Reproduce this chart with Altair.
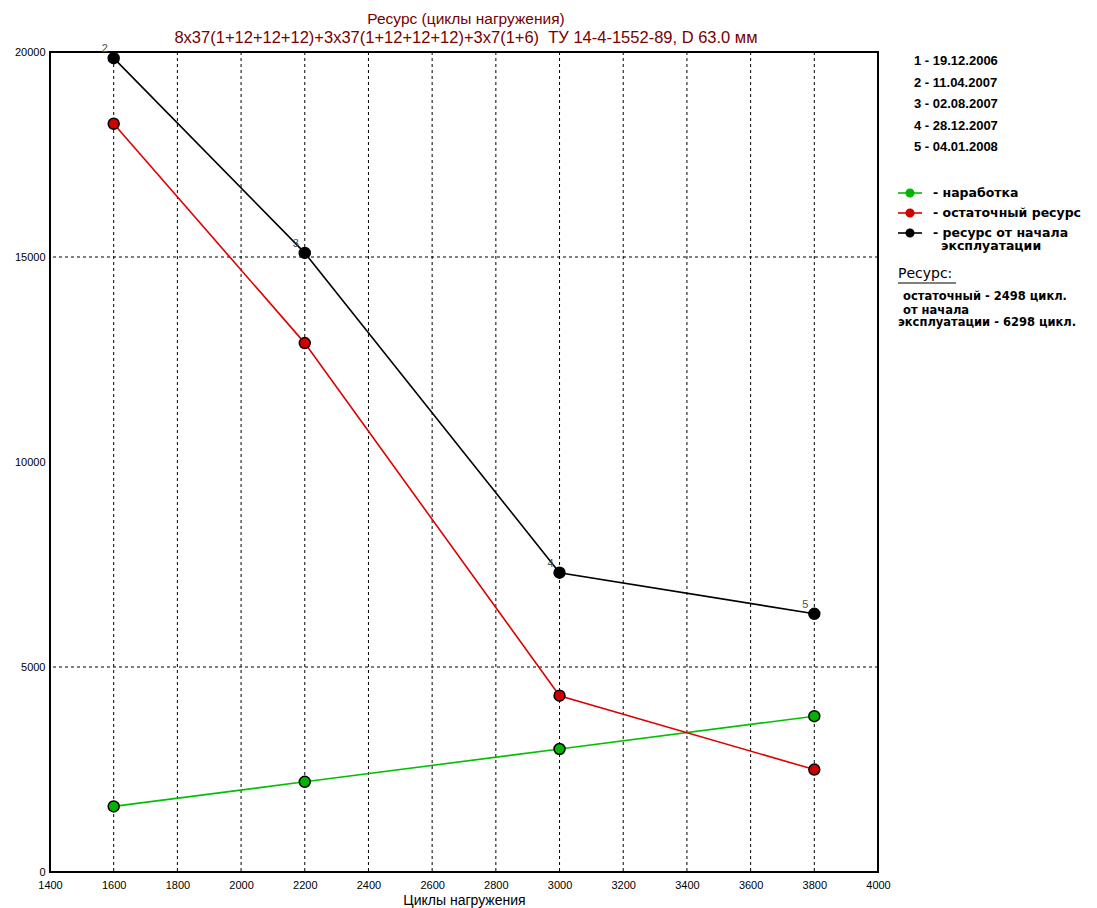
import altair as alt
import pandas as pd

# ---- data ----
cycles = [1600, 2200, 3000, 3800]
narabotka = [1600, 2200, 3000, 3800]
ostatochny = [18250, 12900, 4300, 2498]
ot_nachala = [19850, 15100, 7300, 6298]
point_labels = ["2", "3", "4", "5"]
dates = ["1 - 19.12.2006", "2 - 11.04.2007", "3 - 02.08.2007", "4 - 28.12.2007", "5 - 04.01.2008"]
series_names = ["наработка", "остаточный ресурс", "ресурс от начала эксплуатации"]
series_line_colors = ["#00c000", "#e00000", "#000000"]
series_fill_colors = ["#00b400", "#d00000", "#000000"]
x_ticks = list(range(1400, 4001, 200))
y_ticks = [0, 5000, 10000, 15000, 20000]
y_grid = [5000, 15000]
title_lines = ["Ресурс (циклы нагружения)",
               "8x37(1+12+12+12)+3x37(1+12+12+12)+3x7(1+6)\u00a0\u00a0ТУ 14-4-1552-89, D 63.0 мм"]
x_title = "Циклы нагружения"
res_title = "Ресурс:"
res_lines = ["остаточный - 2498 цикл.", "от начала", "эксплуатации - 6298 цикл."]

W, H = 828, 820
NARROW = "Liberation Sans Narrow, Arial Narrow, Liberation Sans, sans-serif"
SANS = "Liberation Sans, Arial, sans-serif"
WIDE = "DejaVu Sans, Verdana, sans-serif"

rows = []
for name, vals in zip(series_names, [narabotka, ostatochny, ot_nachala]):
    for xv, yv in zip(cycles, vals):
        rows.append({"series": name, "x": xv, "y": yv})
df = pd.DataFrame(rows)

xs = alt.Scale(domain=[1400, 4000], nice=False, zero=False)
ys = alt.Scale(domain=[0, 20000], nice=False)
col = alt.Scale(domain=series_names, range=series_line_colors)
fill = alt.Scale(domain=series_names, range=series_fill_colors)

base = alt.Chart(df)

grid_x = alt.Chart(pd.DataFrame({"x": x_ticks})).mark_rule(
    color="black", strokeDash=[3, 3], strokeWidth=1
).encode(
    x=alt.X("x:Q", scale=xs,
            axis=alt.Axis(values=x_ticks, format="d", title=x_title, grid=False, ticks=False,
                          domain=False, labelFont=NARROW, labelFontSize=11, labelColor="black",
                          labelPadding=7, titleFont=NARROW, titleFontSize=14,
                          titleFontWeight="normal", titleColor="black", titlePadding=3,
                          labelFlush=False))
)

grid_y = alt.Chart(pd.DataFrame({"y": y_grid})).mark_rule(
    color="black", strokeDash=[3, 3], strokeWidth=1
).encode(
    y=alt.Y("y:Q", scale=ys,
            axis=alt.Axis(values=y_ticks, format="d", title=None, grid=False, ticks=False,
                          domain=False, labelFont=NARROW, labelFontSize=11, labelColor="black",
                          labelPadding=5, labelFlush=False))
)

lines = base.mark_line(strokeWidth=1.6).encode(
    x=alt.X("x:Q", scale=xs),
    y=alt.Y("y:Q", scale=ys),
    color=alt.Color("series:N", scale=col, legend=None),
    detail="series:N",
)

points = base.mark_point(filled=True, size=120, stroke="black", strokeWidth=1.5, opacity=1).encode(
    x=alt.X("x:Q", scale=xs),
    y=alt.Y("y:Q", scale=ys),
    fill=alt.Fill("series:N", scale=fill, legend=None),
)

lab_df = pd.DataFrame({"x": cycles, "y": ot_nachala, "t": point_labels})
labels = alt.Chart(lab_df).mark_text(
    dx=-9, dy=-9, font=SANS, fontSize=11, color="#505050"
).encode(x=alt.X("x:Q", scale=xs), y=alt.Y("y:Q", scale=ys), text="t:N")

layers = [grid_x, grid_y, lines, points, labels]

# title
tdf = pd.DataFrame({"t": [0]})
for i, (line, fs) in enumerate(zip(title_lines, [15.5, 16.5])):
    layers.append(alt.Chart(tdf).mark_text(
        text=line, font=NARROW, fontSize=fs, color="#780000", align="center", baseline="alphabetic"
    ).encode(x=alt.value(W / 2 + 2), y=alt.value(-28 + i * 19)))

# right-hand date list
for i, d in enumerate(dates):
    layers.append(alt.Chart(tdf).mark_text(
        text=d, font=SANS, fontSize=13, fontWeight="bold", color="black", align="left",
        baseline="middle"
    ).encode(x=alt.value(864), y=alt.value(9 + i * 21.5)))

# custom legend
for i, (name, lc, fc) in enumerate(zip(series_names, series_line_colors, series_fill_colors)):
    yy = 141 + i * 20
    layers.append(alt.Chart(tdf).mark_rule(color=lc, strokeWidth=1.6).encode(
        x=alt.value(848), x2=alt.value(872), y=alt.value(yy)))
    layers.append(alt.Chart(tdf).mark_point(filled=True, size=50, fill=fc, stroke=fc, opacity=1).encode(
        x=alt.value(860), y=alt.value(yy)))
    words = ["- ресурс от начала", "эксплуатации"] if i == 2 else ["- " + name]
    for k, w in enumerate(words):
        layers.append(alt.Chart(tdf).mark_text(
            text=w, font=WIDE, fontSize=12.5, fontWeight="bold", color="black", align="left",
            baseline="middle"
        ).encode(x=alt.value(883 + (8 if k else 0)), y=alt.value(yy + k * 13)))

layers.append(alt.Chart(tdf).mark_text(
    text=res_title, font=WIDE, fontSize=14, color="black", align="left", baseline="middle"
).encode(x=alt.value(848), y=alt.value(222)))
layers.append(alt.Chart(tdf).mark_rule(color="black", strokeWidth=1).encode(
    x=alt.value(848), x2=alt.value(906), y=alt.value(231)))
for i, t in enumerate(res_lines):
    layers.append(alt.Chart(tdf).mark_text(
        text=t, font=WIDE, fontSize=11.5, fontWeight="bold", color="black", align="left",
        baseline="middle"
    ).encode(x=alt.value(853 if i < 2 else 848), y=alt.value(245 + i * 12.5 + (0 if i == 0 else 1))))

chart = alt.layer(*layers).properties(
    width=W, height=H,
    autosize=alt.AutoSizeParams(type="none"),
    padding={"left": 42, "top": 44, "right": 210, "bottom": 36},
    background="white",
).configure_view(stroke="black", strokeWidth=2)

chart.save("out.html", embed_options={"renderer": "svg", "actions": False})
